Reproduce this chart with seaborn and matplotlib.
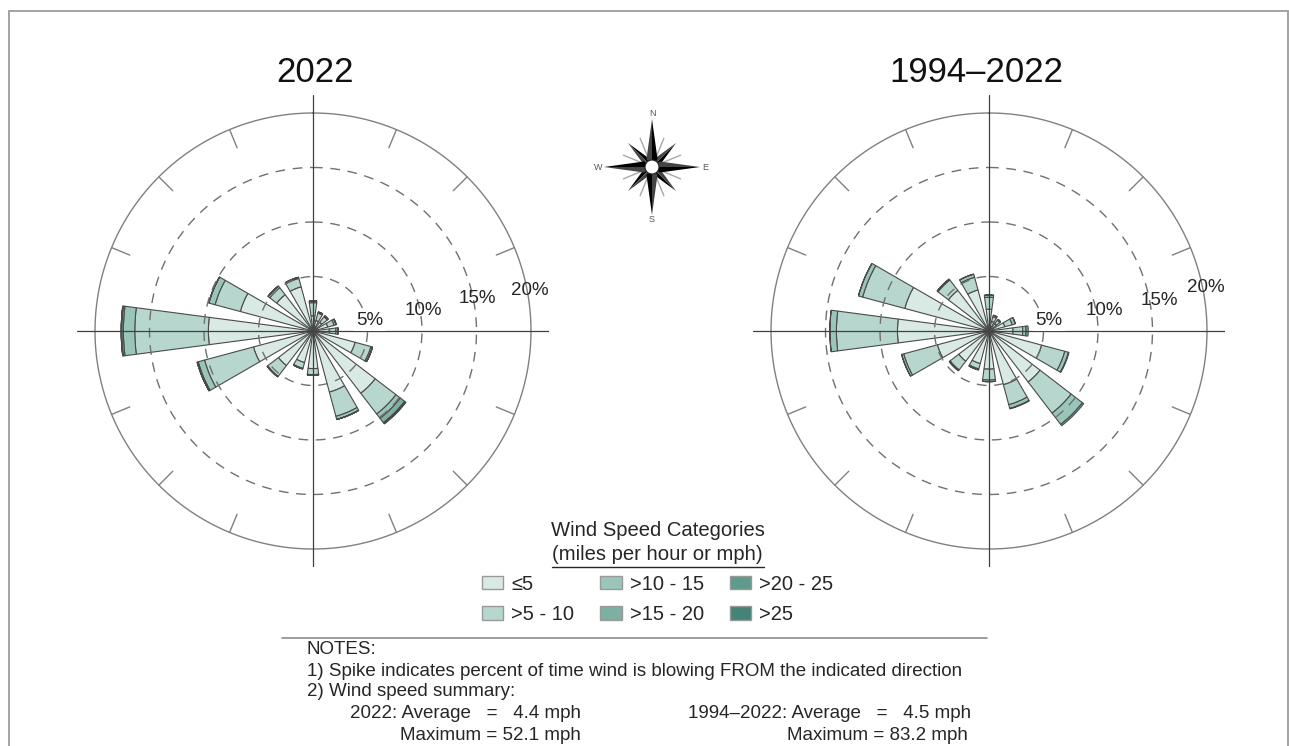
import matplotlib
matplotlib.use('Agg')
import matplotlib.pyplot as plt
from matplotlib.lines import Line2D
from matplotlib.patches import Patch, Polygon, Circle
import seaborn as sb
import numpy as np
import pandas as pd

W, H = 1289, 746

directions = ['N', 'NNE', 'NE', 'ENE', 'E', 'ESE', 'SE', 'SSE',
              'S', 'SSW', 'SW', 'WSW', 'W', 'WNW', 'NW', 'NNW']
categories = ['≤5', '>5 - 10', '>10 - 15', '>15 - 20', '>20 - 25', '>25']
culori = ['#D9E9E4', '#B7D6CD', '#9AC5BA', '#7DAFA3', '#5F9A8D', '#458376']

# procente pe directie, cate o lista pentru fiecare clasa de viteza
y2022_c1 = [1.4, 1.0, 1.0, 1.4, 1.5, 4.0, 7.2, 5.8, 3.45, 3.0, 4.0, 5.65, 9.6, 6.9, 4.2, 4.2]
y2022_c2 = [1.2, 0.7, 0.65, 0.6, 0.6, 1.5, 2.4, 2.3, 0.55, 0.55, 1.25, 4.65, 6.75, 2.4, 0.8, 0.8]
y2022_c3 = [0.15, 0.1, 0.1, 0.2, 0.2, 0.15, 0.5, 0.3, 0.07, 0.05, 0.05, 0.6, 1.05, 0.6, 0.2, 0.1]
y2022_c4 = [0, 0, 0, 0, 0, 0, 0.5, 0, 0, 0, 0, 0.1, 0.15, 0, 0, 0]
y2022_c5 = [0, 0, 0, 0, 0, 0, 0.1, 0, 0, 0, 0, 0, 0.05, 0, 0, 0]
y2022_c6 = [0, 0, 0, 0, 0, 0, 0.05, 0, 0, 0, 0, 0, 0, 0, 0, 0]

lung_c1 = [2.0, 0.9, 0.85, 1.5, 2.2, 5.0, 5.9, 5.1, 3.5, 3.1, 3.5, 4.9, 8.4, 8.0, 4.7, 3.9]
lung_c2 = [1.1, 0.45, 0.4, 0.7, 0.9, 2.2, 3.6, 1.9, 1.0, 0.5, 1.0, 3.2, 5.6, 4.0, 1.2, 1.2]
lung_c3 = [0.2, 0.15, 0.1, 0.3, 0.3, 0.35, 1.3, 0.35, 0.15, 0.1, 0.1, 0.2, 0.6, 0.4, 0.1, 0.3]
lung_c4 = [0, 0, 0, 0, 0.2, 0.05, 0.15, 0.05, 0, 0, 0, 0, 0, 0, 0, 0]

perioade = {
    '2022': [y2022_c1, y2022_c2, y2022_c3, y2022_c4, y2022_c5, y2022_c6],
    '1994–2022': [lung_c1, lung_c2, lung_c3, lung_c4],
}
etichete_r = ['5%', '10%', '15%', '20%']

sb.set_theme(style='white')
plt.rcParams['font.family'] = ['Liberation Sans', 'DejaVu Sans']
paleta = sb.color_palette(culori)
TEXT = '#262626'

fig = plt.figure(figsize=(W / 100, H / 100), dpi=100, facecolor='white')


def fx(x):
    return x / W


def fy(y):
    return 1 - y / H


def trandafir(valori, cx, cy, titlu, x_titlu, poz_etichete):
    raza = 236
    ax = fig.add_axes([fx(cx - raza), fy(cy + raza), 2 * raza / W, 2 * raza / H], projection='polar')
    ax.set_theta_zero_location('N')
    ax.set_theta_direction(-1)
    ax.set_ylim(0, 236 / 10.9)
    ax.grid(False)
    ax.set_xticks([])
    ax.set_yticks([])
    ax.spines['polar'].set_visible(False)
    ax.patch.set_alpha(0)

    unghiuri = np.deg2rad(np.arange(len(directions)) * 22.5)
    tabel = pd.DataFrame(valori).T
    baza = np.zeros(len(directions))
    for k in tabel.columns:
        ax.bar(unghiuri, tabel[k].values, width=np.deg2rad(15), bottom=baza, color=paleta[k],
               edgecolor='#4a4a4a', linewidth=0.8, zorder=2)
        baza = baza + tabel[k].values

    t = np.linspace(0, 2 * np.pi, 400)
    ax.plot(t, np.full_like(t, 20), color='#808080', lw=1.0, zorder=3)
    for r in [5, 10, 15]:
        ax.plot(t, np.full_like(t, r), color='#707070', lw=1.0, dashes=(7, 5.5), zorder=3)
    for i, u in enumerate(unghiuri):
        if i % 4 == 0:
            ax.plot([u, u], [0, 236 / 10.9], color='#404040', lw=0.9, zorder=4)
        else:
            ax.plot([u, u], [18.2, 20], color='#808080', lw=1.0, zorder=3)

    fig.text(fx(x_titlu), fy(72), titlu, fontsize=25, color='#111111', ha='center', va='center')
    for s, (x, y) in zip(etichete_r, poz_etichete):
        fond = dict(facecolor='white', edgecolor='none', pad=1.5) if s == '5%' else None
        fig.text(fx(x), fy(y), s, fontsize=13.5, color=TEXT, ha='center', va='center', bbox=fond)


def busola(cx, cy):
    ax = fig.add_axes([fx(cx - 60), fy(cy + 60), 120 / W, 120 / H])
    ax.set_xlim(-60, 60)
    ax.set_ylim(-60, 60)
    ax.axis('off')
    for a in np.deg2rad(np.arange(0, 360, 22.5)):
        if round(np.rad2deg(a)) % 45 != 0:
            ax.plot([0, 31 * np.sin(a)], [0, 31 * np.cos(a)], color='#a8a8a8', lw=1.0, zorder=1)
    for pas, lung, lat in [(45, 34, 4), (0, 48, 5.5)]:
        for g in range(0, 360, 90):
            a = np.deg2rad(g + pas)
            v = np.array([np.sin(a), np.cos(a)])
            n = np.array([v[1], -v[0]])
            ax.add_patch(Polygon([lung * v, 8 * v + lat * n, [0, 0]], color='black', lw=0, zorder=2))
            ax.add_patch(Polygon([lung * v, 8 * v - lat * n, [0, 0]], color='#444444', lw=0, zorder=2))
    ax.add_patch(Circle((0, 0), 7, facecolor='white', edgecolor='#222222', lw=0.8, zorder=3))
    for s, x, y in [('N', 0, 53), ('S', 0, -53), ('E', 53, 0), ('W', -54, 0)]:
        ax.text(x, y, s, fontsize=6.5, color='#555555', ha='center', va='center')


trandafir(perioade['2022'], 313, 331, '2022', 315.5, [(370, 320), (423, 311), (477, 298), (530, 291)])
trandafir(perioade['1994–2022'], 989, 331, '1994–2022', 976, [(1049, 320), (1104, 311), (1159, 300), (1206, 288)])
busola(652, 167)

# legenda
fig.text(fx(657.5), fy(530), 'Wind Speed Categories', fontsize=14.6, color=TEXT, ha='center', va='center')
fig.text(fx(657.5), fy(555), '(miles per hour or mph)', fontsize=14.6, color=TEXT, ha='center', va='center')
fig.add_artist(Line2D([fx(552), fx(764)], [fy(567), fy(567)], color=TEXT, lw=1.0))
manere = [Patch(facecolor=paleta[i], edgecolor='#999999', linewidth=1, label=categories[i])
          for i in range(len(categories))]
fig.legend(handles=manere, ncol=3, frameon=False, loc='upper left', bbox_to_anchor=(fx(482), fy(574.5)),
           fontsize=14.5, labelcolor=TEXT, handlelength=1.05, handleheight=0.65, handletextpad=0.4,
           columnspacing=1.3, labelspacing=0.58, borderpad=0, borderaxespad=0)

# note
fig.add_artist(Line2D([fx(282), fx(987)], [fy(638), fy(638)], color='#8c8c8c', lw=1.2))
for txt, x, y, ha in [
    ('NOTES:', 307, 649, 'left'),
    ('1) Spike indicates percent of time wind is blowing FROM the indicated direction', 307, 671, 'left'),
    ('2) Wind speed summary:', 307, 692, 'left'),
    ('2022: Average   =   4.4 mph', 581, 714, 'right'),
    ('Maximum = 52.1 mph', 581, 736, 'right'),
    ('1994–2022: Average   =   4.5 mph', 971, 714, 'right'),
    ('Maximum = 83.2 mph', 968, 736, 'right'),
]:
    fig.text(fx(x), fy(y), txt, fontsize=13.5, color=TEXT, ha=ha, va='center')

# chenar fara latura de jos
for xs, ys in [((9, 9), (746, 11)), ((9, 1288), (11, 11)), ((1288, 1288), (11, 746))]:
    fig.add_artist(Line2D([fx(x) for x in xs], [fy(y) for y in ys], color='#a3a3a3', lw=1.4))

fig.savefig('out.png', dpi=100)
